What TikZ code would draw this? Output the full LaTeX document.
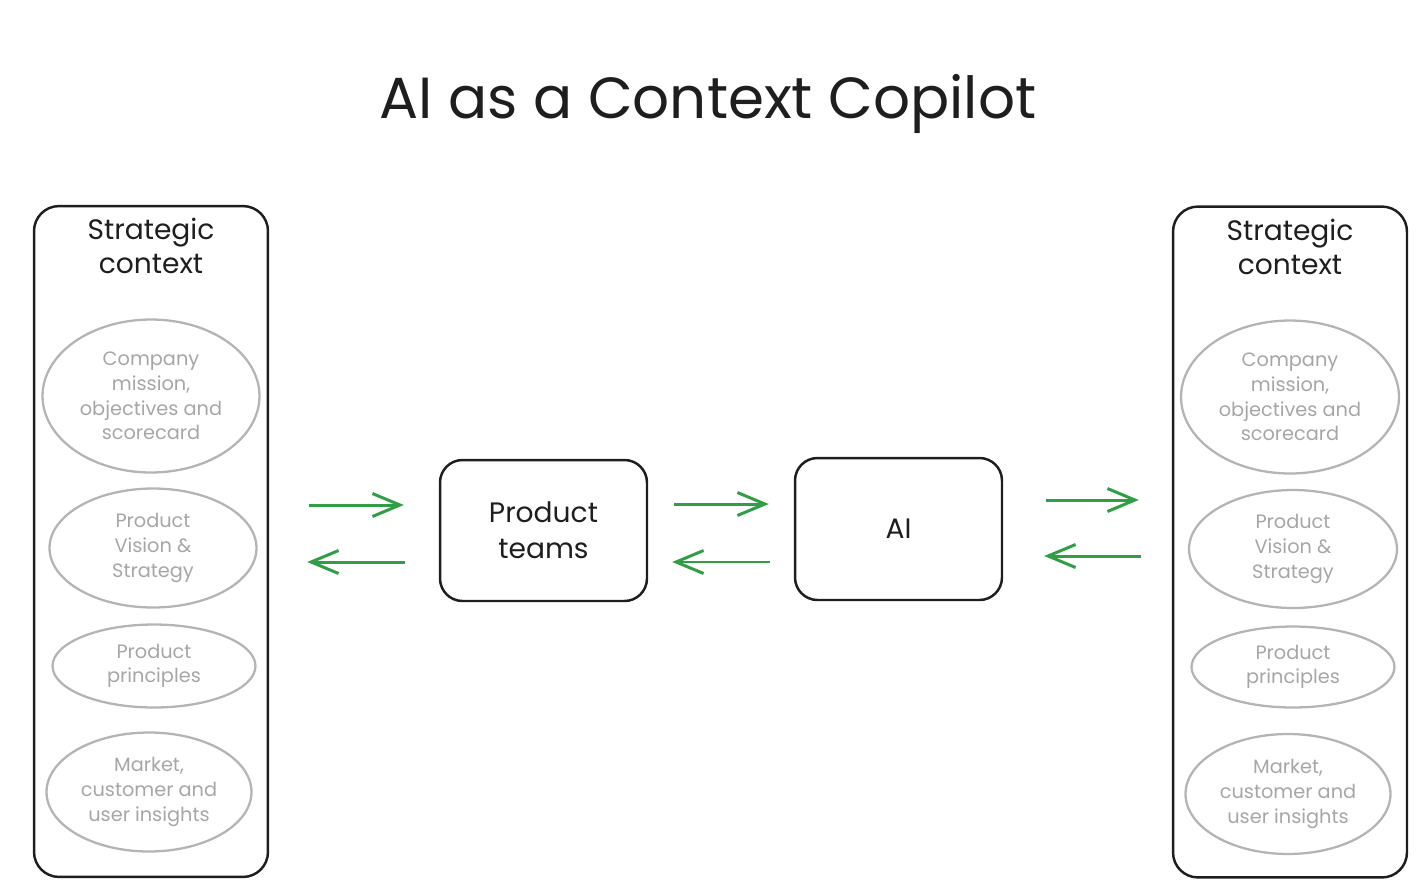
\documentclass[tikz,border=0pt]{standalone}
\usepackage{fontspec}
\setmainfont{Poppins}
\usetikzlibrary{arrows.meta, shapes.geometric}

\definecolor{inkblack}{HTML}{1E1E1E}
\definecolor{flowgreen}{HTML}{2F9E44}
\definecolor{softgray}{HTML}{B4B4B4}
\definecolor{textgray}{HTML}{A6A6A6}

\tikzset{
  ctxbox/.style={draw=inkblack, line width=1.4pt, rounded corners=0.5cm, minimum width=4.68cm, minimum height=13.42cm},
  teambox/.style={draw=inkblack, line width=1.4pt, rounded corners=0.45cm, minimum width=4.14cm, minimum height=2.82cm, align=center, font=\fontsize{16}{20.5}\selectfont, text=inkblack},
  ctxtitle/.style={align=center, font=\fontsize{16}{19.5}\selectfont, text=inkblack},
  bubble/.style={ellipse, draw=softgray, line width=1.3pt, inner sep=0pt, align=center, font=\fontsize{11}{14}\selectfont, text=textgray},
  flow/.style={draw=flowgreen, line width=1.7pt, -{Straight Barb[length=5.5mm, width=4.6mm, line width=1.7pt]}}
}

\begin{document}
\begin{tikzpicture}[x=0.02cm, y=-0.02cm]
    \useasboundingbox (0,0) rectangle (1417,887);
    % Title
    \node at (708,104) [font=\fontsize{33}{38}\selectfont, text=inkblack] (title) {AI as a Context Copilot};

    % Left strategic context
    \node at (151,541.5) [ctxbox] (lctx) {};
    \node at (151,246) [ctxtitle] (ltitle) {Strategic\\context};
    \node at (151,396) [bubble, minimum width=4.34cm, minimum height=3.06cm] (lmission) {Company\\mission,\\objectives and\\scorecard};
    \node at (153,548) [bubble, minimum width=4.14cm, minimum height=2.38cm] (lvision) {Product\\Vision \&\\Strategy};
    \node at (154,666) [bubble, minimum width=4.06cm, minimum height=1.66cm] (lprinciples) {Product\\principles};
    \node at (149,792) [bubble, minimum width=4.1cm, minimum height=2.38cm] (linsights) {Market,\\customer and\\user insights};

    % Right strategic context
    \node at (1290,542) [ctxbox] (rctx) {};
    \node at (1290,247) [ctxtitle] (rtitle) {Strategic\\context};
    \node at (1290,397) [bubble, minimum width=4.36cm, minimum height=3.06cm] (rmission) {Company\\mission,\\objectives and\\scorecard};
    \node at (1293,549) [bubble, minimum width=4.16cm, minimum height=2.36cm] (rvision) {Product\\Vision \&\\Strategy};
    \node at (1293,667) [bubble, minimum width=4.06cm, minimum height=1.62cm] (rprinciples) {Product\\principles};
    \node at (1288,794) [bubble, minimum width=4.1cm, minimum height=2.4cm] (rinsights) {Market,\\customer and\\user insights};

    % Middle boxes
    \node at (543.5,530.5) [teambox] (teams) {Product\\teams};
    \node at (898.5,529) [teambox, minimum height=2.84cm] (ai) {AI};

    % Arrows between them
    \draw[flow, shorten <=0.8cm, shorten >=0.7cm] ([yshift=0.73cm]lctx.east) -- ([yshift=0.73cm]lctx.east -| teams.west);
    \draw[flow, shorten <=0.68cm, shorten >=0.76cm] ([yshift=-0.63cm]teams.west) -- ([yshift=-0.63cm]teams.west -| lctx.east);
    \draw[flow, shorten <=0.52cm, shorten >=0.5cm] ([yshift=0.53cm]teams.east) -- ([yshift=0.53cm]teams.east -| ai.west);
    \draw[flow, shorten <=0.48cm, shorten >=0.48cm] ([yshift=-0.66cm]ai.west) -- ([yshift=-0.66cm]ai.west -| teams.east);
    \draw[flow, shorten <=0.86cm, shorten >=0.66cm] ([yshift=0.58cm]ai.east) -- ([yshift=0.58cm]ai.east -| rctx.west);
    \draw[flow, shorten <=0.62cm, shorten >=0.82cm] ([yshift=-0.54cm]rctx.west |- ai.east) -- ([yshift=-0.54cm]ai.east);
\end{tikzpicture}
\end{document}
